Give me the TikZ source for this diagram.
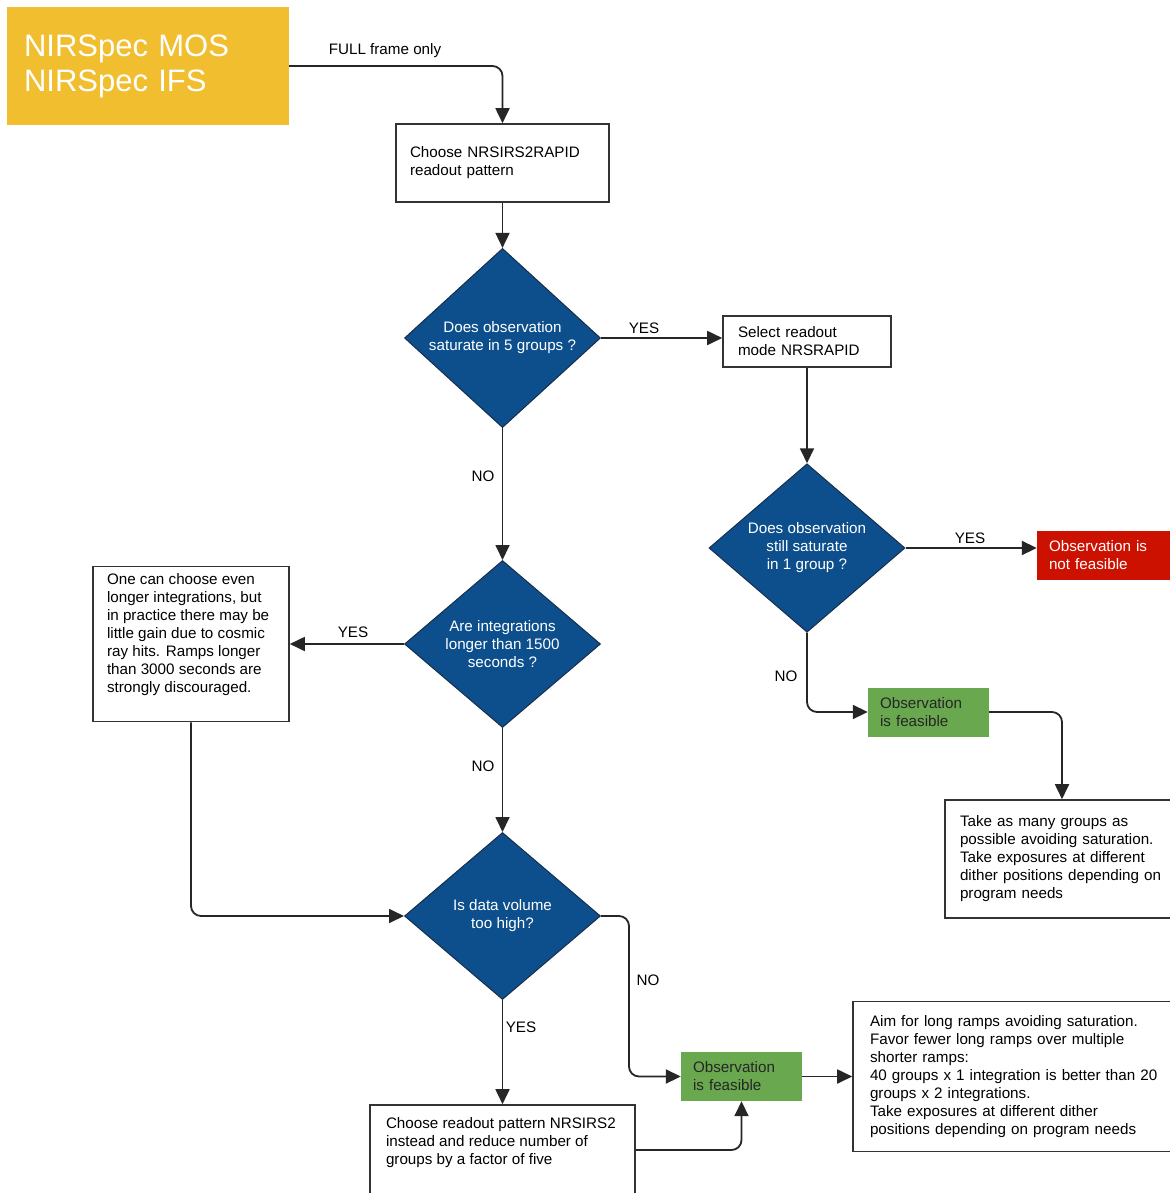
\documentclass[tikz,border=0pt]{standalone}
\usepackage{fontspec}
\setmainfont{Liberation Sans}
\usetikzlibrary{shapes.geometric,arrows.meta}
\definecolor{nirsyellow}{RGB}{241,190,48}
\definecolor{nirsblue}{RGB}{12,79,140}
\definecolor{nirsgreen}{RGB}{106,168,79}
\definecolor{nirsred}{RGB}{204,17,0}

\begin{document}
\begin{tikzpicture}[x=1pt, y=-1pt,
    every node/.style={font=\fontsize{15.2}{18}\selectfont, inner ysep=0pt},
    box/.style={draw=black!80, line width=1.6pt, fill=white, align=left},
    ask/.style={diamond, draw={rgb,255:red,25;green,45;blue,75}, line width=1pt, fill=nirsblue,
      text=white, align=center, inner sep=0pt, minimum width=196pt, minimum height=167pt},
    flag/.style={align=left, minimum height=49pt, inner xsep=12pt, text width=97pt},
    arr/.style={-{Triangle[length=15pt,width=14pt]}, line width=1.8pt, black!85, rounded corners=10pt}]
  \useasboundingbox (0,0) rectangle (1169,1193);

  \node[fill=nirsyellow, text=white, font=\fontsize{31}{35}\selectfont, align=left,
    text width=248pt, inner xsep=17pt, minimum height=118pt] (mode) at (148,66) {NIRSpec MOS\\NIRSpec IFS};
  \node[box, text width=185pt, inner xsep=14pt, minimum height=78pt] (pick) at (502.5,163) {Choose NRSIRS2RAPID\\readout pattern};
  \node[ask] (sat5) at (502.5,338) {Does observation\\saturate in 5 groups ?};
  \node[box, text width=138pt, inner xsep=15pt, minimum height=51pt] (rapid) at (807,341.5) {Select readout\\mode NRSRAPID};
  \node[ask] (sat1) at (807,548) {Does observation\\still saturate\\in 1 group ?};
  \node[flag, fill=nirsred, text=white, text width=118pt] (nofeas) at (1108,555.5) {Observation is\\not feasible};
  \node[flag, fill=nirsgreen, text=black!85] (ok1) at (928.5,712) {Observation\\is feasible};
  \node[box, text width=204pt, inner xsep=15pt, minimum height=118pt] (many) at (1062,859)
    {Take as many groups as\\possible avoiding saturation.\\Take exposures at different\\dither positions depending on\\program needs};
  \node[ask] (long) at (502.5,644) {Are integrations\\longer than 1500\\seconds ?};
  \node[box, inner xsep=14pt, inner ysep=7pt] (note) at (191,644)
    {\parbox[c][141pt][t]{168pt}{\raggedright One can choose even\\longer integrations, but\\in practice there may be\\little gain due to cosmic\\ray hits. Ramps longer\\than 3000 seconds are\\strongly discouraged.}};
  \node[ask] (vol) at (502.5,916) {Is data volume\\too high?};
  \node[box, inner xsep=16pt, inner ysep=12pt] (irs2) at (502.5,1150)
    {\parbox[c][66pt][t]{233pt}{\raggedright Choose readout pattern NRSIRS2\\instead and reduce number of\\groups by a factor of five}};
  \node[flag, fill=nirsgreen, text=black!85] (ok2) at (741.5,1076.5) {Observation\\is feasible};
  \node[box, text width=298pt, inner xsep=17pt, minimum height=150pt] (aim) at (1019,1076.5)
    {Aim for long ramps avoiding saturation.\\Favor fewer long ramps over multiple\\shorter ramps:\\40 groups x 1 integration is better than 20\\groups x 2 integrations.\\Take exposures at different dither\\positions depending on program needs};

  \node (full) at (385,51) {FULL frame only};
  \foreach \n/\x/\y/\t in {yesa/644/328/YES, noa/483/476/NO, yesb/353/632/YES, nob/483/766/NO,
      yesc/521/1027/YES, noc/648/980/NO, yesd/970/538/YES, nod/786/676/NO}
    \node (\n) at (\x,\y) {\t};

  \draw[arr] (mode.east) -| (pick.north);
  \draw[arr] (pick.south) -- (sat5.north);
  \draw[arr] (sat5.east) -- (sat5.east -| rapid.west);
  \draw[arr] (sat5.south) -- (long.north);
  \draw[arr] (long.west) -- (note.east);
  \draw[arr] (long.south) -- (vol.north);
  \draw[arr] (note.south) |- (vol.west);
  \draw[arr] (vol.east) -- ++(28,0) |- (ok2.west);
  \draw[arr] (vol.south) -- (irs2.north);
  \draw[arr] (irs2.east) -| (ok2.south);
  \draw[arr] (ok2.east) -- (aim.west);
  \draw[arr] (rapid.south) -- (sat1.north);
  \draw[arr] (sat1.east) -- (sat1.east -| nofeas.west);
  \draw[arr] (sat1.south) |- (ok1.west);
  \draw[arr] (ok1.east) -| (many.north);
\end{tikzpicture}
\end{document}
